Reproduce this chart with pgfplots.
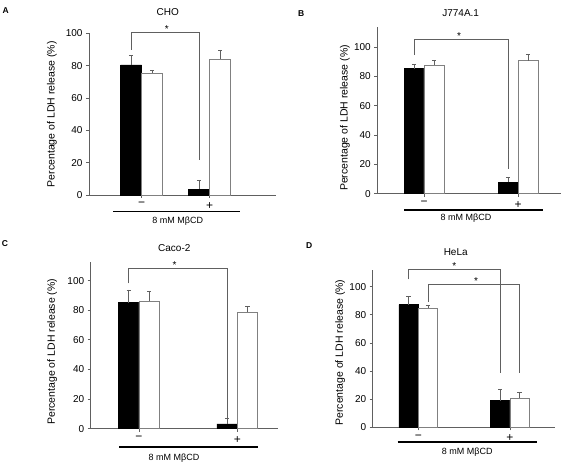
\documentclass[border=0pt]{standalone}
\usepackage{fontspec}
\setmainfont{Liberation Sans}
\usepackage{pgfplots}
\pgfplotsset{compat=1.18}
\definecolor{axgray}{RGB}{96,96,96}
\definecolor{edgegray}{RGB}{128,128,128}
\pgfplotsset{
  panel/.style={
    scale only axis, anchor=south west, clip=false,
    axis x line*=bottom, axis y line*=left,
    axis line style={draw=axgray, line width=0.8pt, -},
    ymin=0, xtick={1,2}, xticklabels={−,+}, ytick={0,20,40,60,80,100},
    tick align=outside, major tick length=3pt,
    tick style={draw=axgray, line width=0.8pt},
    /pgf/number format/assume math mode=true,
    yticklabel style={font=\fontsize{10}{12}\selectfont},
    xticklabel style={font=\fontsize{12}{14}\selectfont, yshift=-1pt},
    ylabel={Percentage of LDH release (\%)},
    label style={font=\fontsize{10.5}{12}\selectfont},
    ylabel style={anchor=center},
  },
  errs/.style={
    error bars/y dir=plus, error bars/y explicit,
    error bars/error bar style={draw=axgray, line width=0.8pt},
    error bars/error mark options={draw=axgray, rotate=90, mark size=2.2pt, line width=0.8pt}},
  blackbar/.style={ybar, bar shift=0pt, fill=black, draw=black, line width=0.6pt, errs},
  whitebar/.style={ybar, bar shift=0pt, fill=white, draw=edgegray, line width=0.8pt, errs},
}
\tikzset{
  bracket/.style={draw=axgray, line width=0.8pt},
  star/.style={font=\fontsize{10}{12}\selectfont, inner sep=0pt, yshift=-2pt},
  lbl/.style={font=\fontsize{9}{11}\selectfont},
  ttl/.style={font=\fontsize{10}{12}\selectfont},
  let/.style={font=\bfseries\fontsize{8.5}{10}\selectfont},
}
\begin{document}
\begin{tikzpicture}[x=1pt,y=1pt]
\path[use as bounding box] (0,0) rectangle (563,466);

% ---------------- Panel A ----------------
\begin{axis}[panel, at={(89pt,271pt)}, width=187pt, height=161.7pt,
  xmin=0.225, xmax=2.975, ymax=100,
  ylabel style={at={(axis description cs:-0.198,0.5)}}]
\addplot[blackbar, bar width=21pt] coordinates {(0.845,80.4) +- (0,5.8) (1.845,3.7) +- (0,5.2)};
\addplot[whitebar, bar width=21pt] coordinates {(1.155,75.5) +- (0,1.8) (2.155,83.9) +- (0,5.4)};
\draw[bracket] (axis cs:0.845,89.7) |- (axis cs:1.845,100.4) -- (axis cs:1.845,21.6);
\node[star] at (axis cs:1.37,104) {*};
\end{axis}

% ---------------- Panel B ----------------
\begin{axis}[panel, at={(377.3pt,272.3pt)}, width=183.7pt, height=167pt,
  xmin=0.503, xmax=2.457, ymax=113.8,
  ylabel style={at={(axis description cs:-0.176,0.453)}}]
\addplot[blackbar, bar width=20pt] coordinates {(0.894,85.2) +- (0,3.0) (1.894,7.7) +- (0,3.4)};
\addplot[whitebar, bar width=20pt] coordinates {(1.106,87.7) +- (0,2.8) (2.106,90.5) +- (0,4.3)};
\draw[bracket] (axis cs:0.894,94.5) |- (axis cs:1.894,105.2) -- (axis cs:1.894,16.8);
\node[star] at (axis cs:1.372,108.5) {*};
\end{axis}

% ---------------- Panel C ----------------
\begin{axis}[panel, at={(90.7pt,37.3pt)}, width=187.6pt, height=167pt,
  xmin=0.509, xmax=2.417, ymax=112.8,
  ylabel style={at={(axis description cs:-0.205,0.461)}}]
\addplot[blackbar, bar width=20.5pt] coordinates {(0.896,85.1) +- (0,8.6) (1.896,3.2) +- (0,3.6)};
\addplot[whitebar, bar width=20.5pt] coordinates {(1.104,86.3) +- (0,6.5) (2.104,78.8) +- (0,3.9)};
\draw[bracket] (axis cs:0.896,98.2) |- (axis cs:1.896,108.3) -- (axis cs:1.896,6.0);
\node[star] at (axis cs:1.363,112) {*};
\end{axis}

% ---------------- Panel D ----------------
\begin{axis}[panel, at={(372.7pt,38.7pt)}, width=182.3pt, height=157.3pt,
  xmin=0.503, xmax=2.491, ymax=111.9,
  ylabel style={at={(axis description cs:-0.179,0.475)}}]
\addplot[blackbar, bar width=19.5pt] coordinates {(0.894,87.2) +- (0,5.9) (1.894,19.0) +- (0,8.0)};
\addplot[whitebar, bar width=19.5pt] coordinates {(1.106,84.6) +- (0,2.1) (2.106,20.6) +- (0,4.0)};
\draw[bracket] (axis cs:0.894,105.2) |- (axis cs:1.899,112.3) -- (axis cs:1.899,38.9);
\draw[bracket] (axis cs:1.106,89.3) |- (axis cs:2.102,101.7) -- (axis cs:2.102,38.9);
\node[star] at (axis cs:1.393,116) {*};
\node[star] at (axis cs:1.629,105.5) {*};
\end{axis}

% ---------------- annotations ----------------
\node[ttl] at (167.8,454.3) {CHO};
\node[ttl] at (460.7,452.7) {J774A.1};
\node[ttl] at (174.3,217.7) {Caco-2};
\node[ttl] at (455.7,214) {HeLa};

\node[let] at (5.8,455.3) {A};
\node[let] at (301.3,452) {B};
\node[let] at (5,222.7) {C};
\node[let] at (309.3,220.3) {D};

\draw[line width=1.8pt] (113,254.5) -- (240,254.5);
\node[lbl] at (177.7,245.3) {8 mM MβCD};
\draw[line width=1.8pt] (404,256) -- (543,256);
\node[lbl] at (466,247.7) {8 mM MβCD};
\draw[line width=1.8pt] (119,19.3) -- (258.3,19.3);
\node[lbl] at (174,8.3) {8 mM MβCD};
\draw[line width=1.8pt] (397.7,23.7) -- (536.7,23.7);
\node[lbl] at (467.3,14.3) {8 mM MβCD};
\end{tikzpicture}
\end{document}
